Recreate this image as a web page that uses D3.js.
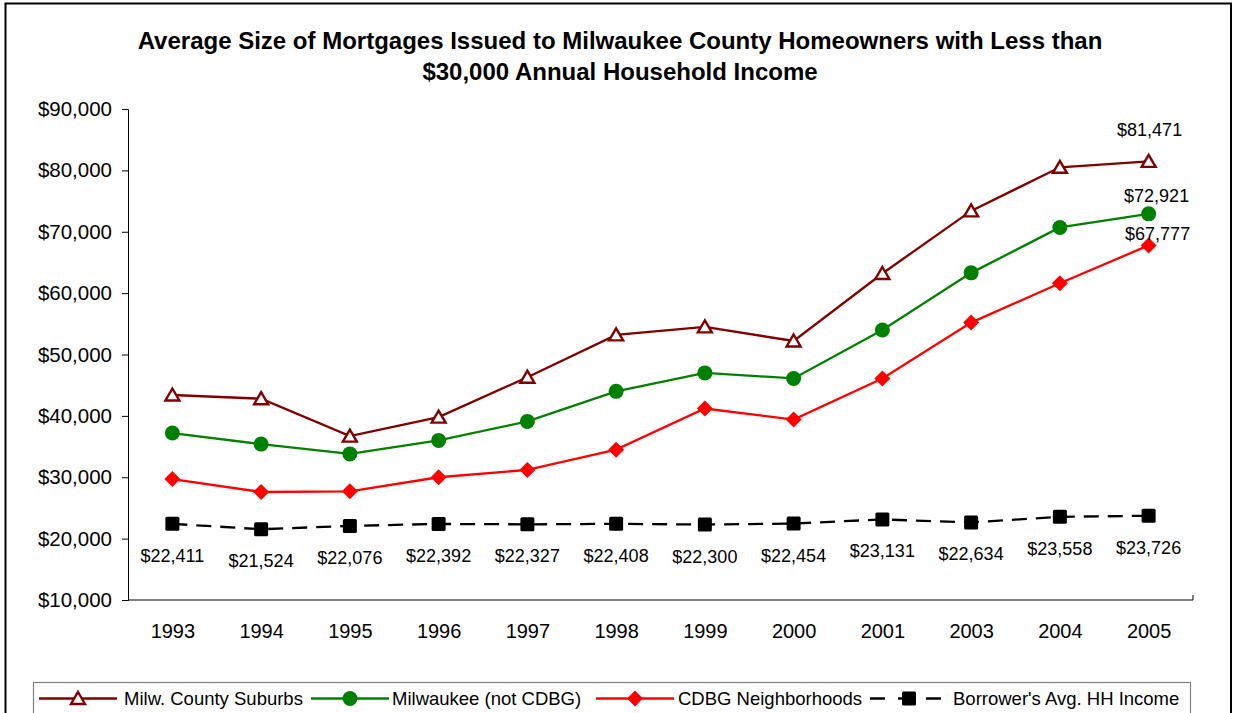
<!DOCTYPE html>
<html>
<head>
<meta charset="utf-8">
<script src="https://cdn.jsdelivr.net/npm/d3@7"></script>
<style>
  html, body { margin: 0; padding: 0; background: #fff; }
  svg { display: block; font-family: "Liberation Sans", Arial, sans-serif; }
</style>
</head>
<body>
<svg id="chart" width="1233" height="713"></svg>
<script>
// ---- data ----
const years = ["1993","1994","1995","1996","1997","1998","1999","2000","2001","2003","2004","2005"];
const suburbs   = [43400, 42800, 36700, 39800, 46300, 53200, 54500, 52200, 63200, 73400, 80500, 81471];
const milwaukee = [37200, 35400, 33800, 36000, 39100, 44000, 47000, 46100, 54000, 63300, 70700, 72921];
const cdbg      = [29700, 27600, 27700, 30000, 31200, 34500, 41200, 39400, 46100, 55200, 61600, 67777];
const income    = [22411, 21524, 22076, 22392, 22327, 22408, 22300, 22454, 23131, 22634, 23558, 23726];
const yTicks    = [10000, 20000, 30000, 40000, 50000, 60000, 70000, 80000, 90000];
const seriesNames = ["Milw. County Suburbs", "Milwaukee (not CDBG)", "CDBG Neighborhoods", "Borrower's Avg. HH Income"];
const titleLines = ["Average Size of Mortgages Issued to Milwaukee County Homeowners with Less than",
                    "$30,000 Annual Household Income"];

// ---- setup ----
const svg = d3.select("#chart");
const plot = {left: 128, right: 1193, top: 109, bottom: 600};

svg.append("rect").attr("x", 5.5).attr("y", 3.5).attr("width", 1225.5).attr("height", 720)
  .attr("fill", "#fff").attr("stroke", "#000").attr("stroke-width", 2);

const x = d3.scalePoint().domain(years).range([plot.left, plot.right]).padding(0.5);
const y = d3.scaleLinear().domain([10000, 90000]).range([plot.bottom, plot.top]);
const fmt = v => "$" + d3.format(",")(v);

// title
svg.append("g").selectAll("text").data(titleLines).join("text")
  .attr("x", 620).attr("y", (d, i) => 48.5 + i * 31.5)
  .attr("text-anchor", "middle").attr("font-weight", "bold").attr("font-size", 24)
  .attr("fill", "#000").text(d => d);

// y axis
const yAxis = svg.append("g").attr("transform", `translate(${plot.left},0)`)
  .call(d3.axisLeft(y).tickValues(yTicks).tickFormat(fmt).tickSize(6).tickPadding(10));
yAxis.select(".domain").attr("stroke", "#000");
yAxis.selectAll(".tick line").attr("stroke", "#000");
yAxis.selectAll("text").attr("font-size", 20.5).attr("fill", "#000")
  .attr("font-family", "Liberation Sans, Arial, sans-serif");

// x axis
const xAxis = svg.append("g").attr("transform", `translate(0,${plot.bottom})`)
  .call(d3.axisBottom(x).tickSize(0).tickPadding(24));
xAxis.select(".domain").attr("stroke", "#000").attr("d", `M${plot.left},0H${plot.right}V-5`);
xAxis.selectAll("text").attr("font-size", 20).attr("fill", "#000")
  .attr("font-family", "Liberation Sans, Arial, sans-serif");

// markers
function drawMarker(g, type, cx, cy, color) {
  if (type === "tri") {
    g.append("path").attr("d", "M0,-6.5L7,5.5L-7,5.5Z").attr("transform", `translate(${cx},${cy})`)
      .attr("fill", "#fff").attr("stroke", color).attr("stroke-width", 2.4).attr("stroke-linejoin", "miter");
  } else if (type === "circ") {
    g.append("circle").attr("cx", cx).attr("cy", cy).attr("r", 7.5).attr("fill", color);
  } else if (type === "dia") {
    g.append("path").attr("d", "M0,-8L8,0L0,8L-8,0Z").attr("transform", `translate(${cx},${cy})`).attr("fill", color);
  } else if (type === "sq") {
    g.append("rect").attr("x", cx - 7).attr("y", cy - 7).attr("width", 14).attr("height", 14)
      .attr("rx", 1.5).attr("fill", color);
  }
}

const series = [
  {name: seriesNames[0], values: suburbs, color: "#800000", marker: "tri", dash: null},
  {name: seriesNames[1], values: milwaukee, color: "#008000", marker: "circ", dash: null},
  {name: seriesNames[2], values: cdbg, color: "#ff0000", marker: "dia", dash: null},
  {name: seriesNames[3], values: income, color: "#000000", marker: "sq", dash: "15,9"},
];

const line = d3.line().x((d, i) => x(years[i])).y(d => y(d));
const gSeries = svg.append("g");
series.slice().reverse().forEach(s => {
  gSeries.append("path").datum(s.values).attr("d", line)
    .attr("fill", "none").attr("stroke", s.color).attr("stroke-width", 2.3)
    .attr("stroke-dasharray", s.dash);
  s.values.forEach((v, i) => drawMarker(gSeries, s.marker, x(years[i]), y(v), s.color));
});

// data labels: income below each point
svg.append("g").selectAll("text").data(income).join("text")
  .attr("x", (d, i) => x(years[i])).attr("y", d => y(d) + 38)
  .attr("text-anchor", "middle").attr("font-size", 18).attr("fill", "#000")
  .text(d => fmt(d));

// last-point labels for the three mortgage series
const last = years.length - 1;
const endLabels = [
  {v: suburbs[last], dx: 1, dy: -25},
  {v: milwaukee[last], dx: 8, dy: -12},
  {v: cdbg[last], dx: 9, dy: -5},
];
svg.append("g").selectAll("text").data(endLabels).join("text")
  .attr("x", d => x(years[last]) + d.dx).attr("y", d => y(d.v) + d.dy)
  .attr("text-anchor", "middle").attr("font-size", 18).attr("fill", "#000")
  .text(d => fmt(d.v));

// legend
const lg = svg.append("g");
lg.append("rect").attr("x", 33.5).attr("y", 682.5).attr("width", 1157).attr("height", 40)
  .attr("fill", "#fff").attr("stroke", "#808080").attr("stroke-width", 1.2);
const legendPos = [
  {x0: 39, x1: 117, tx: 124},
  {x0: 311, x1: 389, tx: 392},
  {x0: 596, x1: 674, tx: 678},
  {x0: 870, x1: 948, tx: 953},
];
const ly = 698.5;
series.forEach((s, i) => {
  const p = legendPos[i];
  lg.append("line").attr("x1", p.x0).attr("x2", p.x1).attr("y1", ly).attr("y2", ly)
    .attr("stroke", s.color).attr("stroke-width", 2.3)
    .attr("stroke-dasharray", s.dash ? "15,13" : null);
  drawMarker(lg, s.marker, (p.x0 + p.x1) / 2, ly, s.color);
  lg.append("text").attr("x", p.tx).attr("y", ly + 6.5).attr("font-size", 18.5).attr("fill", "#000")
    .text(s.name);
});
</script>
</body>
</html>
